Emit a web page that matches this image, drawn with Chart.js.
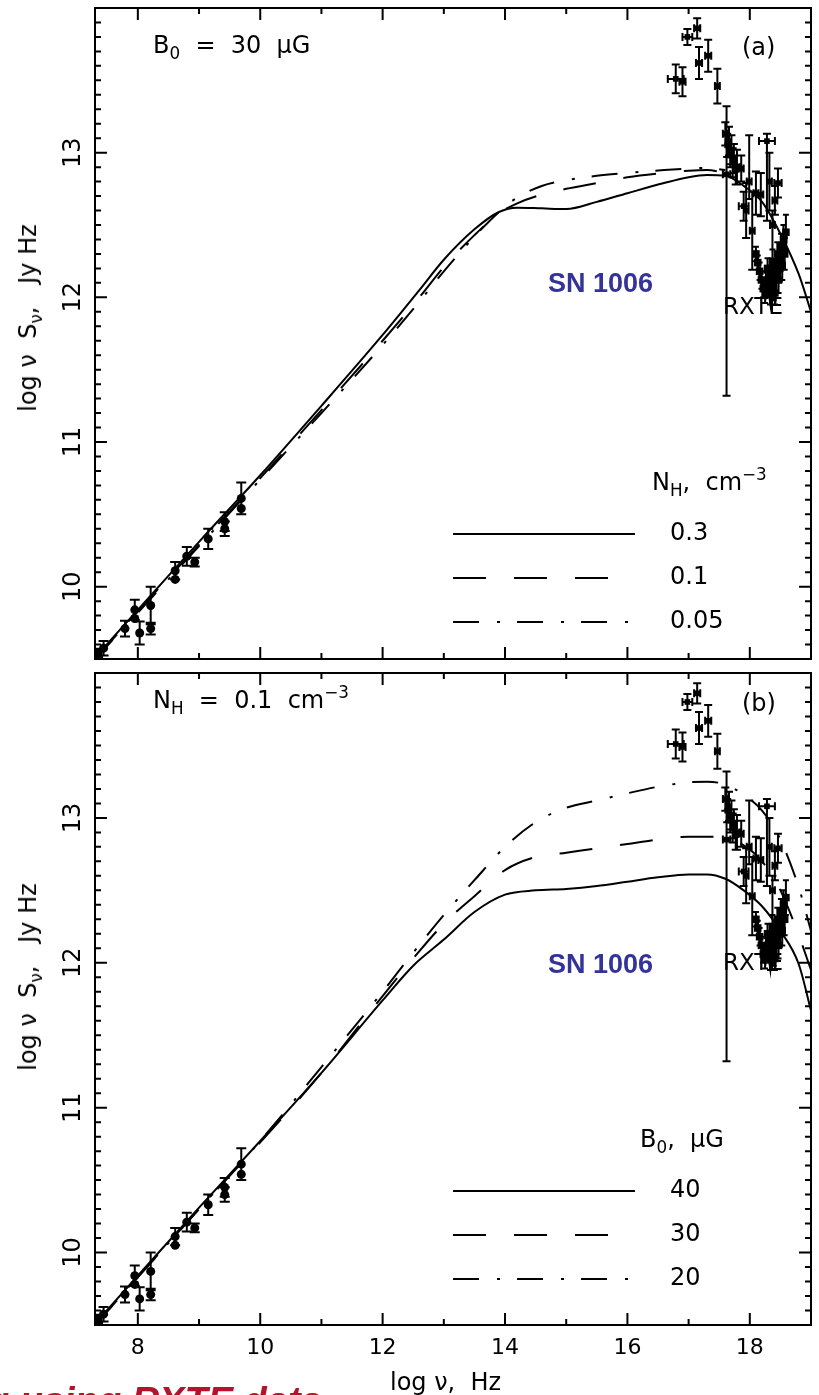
<!DOCTYPE html>
<html>
<head>
<meta charset="utf-8">
<script src="https://cdn.jsdelivr.net/npm/chart.js@4.4.1/dist/chart.umd.min.js"></script>
<style>
html,body{margin:0;padding:0;background:#fff;}
body{width:819px;height:1395px;overflow:hidden;position:relative;}
#wrapA{position:absolute;left:0;top:0;width:819px;height:667px;}
#wrapB{position:absolute;left:0;top:665px;width:819px;height:730px;}
.t{position:absolute;font-family:"DejaVu Sans",sans-serif;font-size:24px;line-height:24px;color:#000;white-space:pre;}
.t sub{font-size:70%;vertical-align:-0.35em;line-height:0;}
.t sup{font-size:70%;vertical-align:0.6em;line-height:0;}
.sn{font-family:"Liberation Sans",Arial,sans-serif;font-weight:bold;font-size:27px;line-height:27px;color:#333399;}
.rot{transform:translate(-50%,-50%) rotate(-90deg);}
.red{position:absolute;font-family:"Liberation Sans",Arial,sans-serif;font-weight:bold;font-style:italic;font-size:38px;line-height:38px;color:#b5122e;white-space:pre;}
</style>
</head>
<body>
<div id="wrapA"><canvas id="chartA"></canvas></div>
<div id="wrapB"><canvas id="chartB"></canvas></div>

<!-- panel (a) annotations -->
<div class="t" style="left:153px;top:33px;">B<sub>0</sub>  =  30  μG</div>
<div class="t" style="left:742px;top:35px;">(a)</div>
<div class="t sn" style="left:548px;top:270px;">SN 1006</div>
<div class="t" style="left:723px;top:294px;font-size:23px;">RXTE</div>
<div class="t" style="left:652px;top:470px;">N<sub>H</sub>,  cm<sup>−3</sup></div>
<div class="t" style="left:670px;top:520px;">0.3</div>
<div class="t" style="left:670px;top:564px;">0.1</div>
<div class="t" style="left:670px;top:608px;">0.05</div>
<div class="t rot" style="left:28px;top:318px;">log ν  S<sub>ν</sub>,   Jy Hz</div>

<!-- panel (b) annotations -->
<div class="t" style="left:153px;top:688px;">N<sub>H</sub>  =  0.1  cm<sup>−3</sup></div>
<div class="t" style="left:742px;top:691px;">(b)</div>
<div class="t sn" style="left:548px;top:951px;">SN 1006</div>
<div class="t" style="left:723px;top:950px;font-size:23px;">RXTE</div>
<div class="t" style="left:640px;top:1127px;">B<sub>0</sub>,  μG</div>
<div class="t" style="left:670px;top:1177px;">40</div>
<div class="t" style="left:670px;top:1221px;">30</div>
<div class="t" style="left:670px;top:1265px;">20</div>
<div class="t rot" style="left:28px;top:977px;">log ν  S<sub>ν</sub>,   Jy Hz</div>

<div class="t" style="left:390px;top:1370px;">log ν,  Hz</div>
<div class="red" style="left:-14px;top:1382px;">g using RXTE data</div>

<script>
// ---------- axis ranges & tick labels ----------
const X_MIN = 7.3, X_MAX = 19.0;
const Y_MIN = 9.5, Y_MAX = 14.0;
const xTickLabels = [8, 10, 12, 14, 16, 18];
const yTickLabels = [10, 11, 12, 13];

// ---------- radio data (log nu, log nuS_nu, error) ----------
const radioX   = [7.35, 7.44, 7.79, 7.95, 7.95, 8.03, 8.21, 8.21, 8.61, 8.61, 8.80, 8.93, 9.15, 9.42, 9.42, 9.69, 9.69];
const radioY   = [9.54, 9.575, 9.71, 9.84, 9.78, 9.68, 9.87, 9.71, 10.11, 10.05, 10.21, 10.17, 10.33, 10.45, 10.40, 10.61, 10.54];
const radioErr = [0.03, 0.05, 0.055, 0.07, 0.0, 0.08, 0.13, 0.04, 0.06, 0.0, 0.065, 0.03, 0.07, 0.065, 0.05, 0.11, 0.0];

// ---------- optical / X-ray data points ----------
const xrayX    = [16.79, 16.90, 16.98, 17.14, 17.17, 17.32, 17.47, 17.62, 17.60, 17.63, 17.66, 17.68, 17.70, 17.72, 17.74, 17.77, 17.79, 17.86, 17.90, 17.94, 17.99, 18.04, 18.10, 18.18, 18.28, 18.32, 18.37, 18.41, 18.46];
const xrayY    = [13.51, 13.49, 13.80, 13.86, 13.62, 13.67, 13.46, 12.85, 13.13, 13.05, 13.08, 12.98, 13.02, 12.93, 12.96, 12.88, 12.90, 12.89, 12.63, 12.60, 12.80, 12.46, 12.72, 12.71, 13.08, 12.80, 12.50, 12.67, 12.79];
const xrayErrLo= [0.10, 0.10, 0.055, 0.07, 0.11, 0.11, 0.12, 1.53, 0.08, 0.08, 0.10, 0.08, 0.10, 0.10, 0.10, 0.10, 0.12, 0.09, 0.10, 0.19, 0.12, 0.27, 0.15, 0.15, 0.55, 0.20, 0.35, 0.10, 0.10];
const xrayErrHi= [0.10, 0.10, 0.055, 0.07, 0.11, 0.11, 0.12, 0.47, 0.08, 0.08, 0.10, 0.08, 0.10, 0.10, 0.10, 0.10, 0.12, 0.09, 0.10, 0.19, 0.32, 0.27, 0.15, 0.15, 0.05, 0.20, 0.10, 0.10, 0.10];
const xrayXErr = [0.13, 0.05, 0.08, 0.05, 0.05, 0.05, 0.04, 0.06, 0.04, 0.03, 0.04, 0.03, 0.04, 0.03, 0.04, 0.03, 0.04, 0.04, 0.08, 0.04, 0.04, 0.04, 0.04, 0.04, 0.13, 0.04, 0.04, 0.04, 0.06];

// ---------- RXTE spectrum (jagged series) ----------
const rxteX   = [18.10, 18.13, 18.16, 18.19, 18.22, 18.25, 18.27, 18.29, 18.31, 18.33, 18.35, 18.37, 18.39, 18.41, 18.43, 18.45, 18.47, 18.49, 18.51, 18.53, 18.55, 18.57, 18.59];
const rxteY   = [12.30, 12.24, 12.18, 12.12, 12.06, 12.03, 12.10, 12.20, 12.08, 12.02, 12.14, 12.25, 12.06, 12.03, 12.18, 12.30, 12.12, 12.20, 12.35, 12.22, 12.40, 12.30, 12.45];
const rxteErr = [0.05, 0.05, 0.06, 0.06, 0.06, 0.07, 0.07, 0.07, 0.07, 0.07, 0.08, 0.08, 0.08, 0.08, 0.08, 0.08, 0.09, 0.09, 0.09, 0.10, 0.10, 0.11, 0.12];

// ---------- model curves, panel (a): B0 = 30 muG, N_H = 0.3 / 0.1 / 0.05 ----------
const aSolidX = [7.3, 8, 9, 10, 11, 12, 12.6, 13.0, 13.5, 13.9, 14.2, 14.6, 15.0, 15.5, 16.0, 16.6, 17.0, 17.3, 17.6, 17.9, 18.2, 18.5, 18.8, 19.0];
const aSolidY = [9.51, 9.84, 10.31, 10.77, 11.25, 11.74, 12.05, 12.26, 12.47, 12.59, 12.62, 12.615, 12.61, 12.66, 12.72, 12.79, 12.83, 12.845, 12.84, 12.77, 12.66, 12.44, 12.16, 11.90];
const aOtherX = [7.3, 8, 9, 10, 11, 12, 12.6, 13.0, 13.5, 13.9, 14.2, 14.6, 15.0, 15.5, 16.0, 16.6, 17.0, 17.3, 17.6];
const aDashY  = [9.50, 9.83, 10.29, 10.75, 11.22, 11.70, 12.00, 12.21, 12.43, 12.58, 12.65, 12.71, 12.75, 12.79, 12.83, 12.86, 12.875, 12.88, 12.86];
const aDotY   = [9.50, 9.82, 10.28, 10.74, 11.20, 11.67, 11.97, 12.18, 12.42, 12.59, 12.69, 12.77, 12.81, 12.84, 12.86, 12.88, 12.89, 12.895, 12.88];

// ---------- model curves, panel (b): N_H = 0.1, B0 = 40 / 30 / 20 muG ----------
const bX      = [7.3, 8, 9, 10, 11, 12, 12.5, 13.0, 13.5, 14.0, 14.5, 15.0, 15.5, 16.0, 16.5, 17.0, 17.3, 17.6, 17.9, 18.2, 18.5, 18.8, 19.0];
const bSolidY = [9.51, 9.84, 10.31, 10.77, 11.24, 11.74, 11.98, 12.16, 12.35, 12.47, 12.50, 12.51, 12.53, 12.56, 12.59, 12.61, 12.61, 12.58, 12.50, 12.39, 12.22, 11.99, 11.67];
const bDashY  = [9.50, 9.83, 10.30, 10.76, 11.24, 11.77, 12.03, 12.27, 12.46, 12.64, 12.73, 12.76, 12.79, 12.82, 12.85, 12.87, 12.87, 12.86, 12.81, 12.70, 12.50, 12.19, 11.95];
const bDotY   = [9.50, 9.83, 10.30, 10.77, 11.28, 11.80, 12.07, 12.33, 12.57, 12.80, 12.97, 13.07, 13.12, 13.17, 13.215, 13.245, 13.25, 13.23, 13.16, 13.05, 12.85, 12.52, 12.22];

// ---------- styles ----------
const DASHED = [33, 28];
const DASHDOT = [26, 18, 3, 17];

function xy(xs, ys) { return xs.map((x, i) => ({ x: x, y: ys[i] })); }
function curve(xs, ys, dash) {
  return { data: xy(xs, ys), showLine: true, borderColor: '#000', borderWidth: 2, borderDash: dash,
           pointRadius: 0, fill: false, cubicInterpolationMode: 'monotone', order: 3 };
}
function pointsDatasets() {
  return [
    { data: xy(radioX, radioY), pointStyle: 'circle', pointRadius: 4.5, backgroundColor: '#000', borderColor: '#000', borderWidth: 0, showLine: false, order: 1 },
    { data: xy(xrayX, xrayY), pointStyle: 'rect', pointRadius: 4, backgroundColor: '#000', borderColor: '#000', borderWidth: 0, showLine: false, order: 1 },
    { data: xy(rxteX, rxteY), pointStyle: 'rect', pointRadius: 2.5, backgroundColor: '#000', borderColor: '#000', borderWidth: 4, showLine: true, tension: 0, order: 1 }
  ];
}

// ---------- plugins ----------
const errorBars = {
  id: 'errorBars',
  afterDatasetsDraw(chart) {
    const { ctx, chartArea: a, scales: { x, y } } = chart;
    ctx.save();
    ctx.beginPath(); ctx.rect(a.left, a.top, a.right - a.left, a.bottom - a.top); ctx.clip();
    ctx.strokeStyle = '#000'; ctx.lineWidth = 2;
    ctx.beginPath();
    radioX.forEach((vx, i) => {
      if (radioErr[i] <= 0) return;
      const px = x.getPixelForValue(vx);
      const y1 = y.getPixelForValue(radioY[i] - radioErr[i]);
      const y2 = y.getPixelForValue(radioY[i] + radioErr[i]);
      ctx.moveTo(px, y1); ctx.lineTo(px, y2);
      ctx.moveTo(px - 5, y1); ctx.lineTo(px + 5, y1);
      ctx.moveTo(px - 5, y2); ctx.lineTo(px + 5, y2);
    });
    xrayX.forEach((vx, i) => {
      const px = x.getPixelForValue(vx);
      const py = y.getPixelForValue(xrayY[i]);
      const y1 = y.getPixelForValue(xrayY[i] - xrayErrLo[i]);
      const y2 = y.getPixelForValue(xrayY[i] + xrayErrHi[i]);
      ctx.moveTo(px, y1); ctx.lineTo(px, y2);
      ctx.moveTo(px - 4, y1); ctx.lineTo(px + 4, y1);
      ctx.moveTo(px - 4, y2); ctx.lineTo(px + 4, y2);
      const x1 = x.getPixelForValue(vx - xrayXErr[i]);
      const x2 = x.getPixelForValue(vx + xrayXErr[i]);
      ctx.moveTo(x1, py); ctx.lineTo(x2, py);
      if (xrayXErr[i] >= 0.04) {
        ctx.moveTo(x1, py - 4); ctx.lineTo(x1, py + 4);
        ctx.moveTo(x2, py - 4); ctx.lineTo(x2, py + 4);
      }
    });
    rxteX.forEach((vx, i) => {
      const px = x.getPixelForValue(vx);
      const y1 = y.getPixelForValue(rxteY[i] - rxteErr[i]);
      const y2 = y.getPixelForValue(rxteY[i] + rxteErr[i]);
      ctx.moveTo(px, y1); ctx.lineTo(px, y2);
      ctx.moveTo(px - 3, y1); ctx.lineTo(px + 3, y1);
      ctx.moveTo(px - 3, y2); ctx.lineTo(px + 3, y2);
    });
    ctx.stroke();
    ctx.restore();
  }
};

const frame = {
  id: 'frame',
  afterDraw(chart) {
    const { ctx, chartArea: a, scales: { x, y } } = chart;
    ctx.save();
    ctx.strokeStyle = '#000'; ctx.lineWidth = 2;
    ctx.strokeRect(a.left, a.top, a.right - a.left, a.bottom - a.top);
    ctx.beginPath();
    for (let v = Math.ceil(X_MIN); v < X_MAX; v++) {
      const px = x.getPixelForValue(v);
      const len = v % 2 === 0 ? 12 : 6;
      ctx.moveTo(px, a.bottom); ctx.lineTo(px, a.bottom - len);
      ctx.moveTo(px, a.top); ctx.lineTo(px, a.top + len);
    }
    for (let k = Math.round(Y_MIN * 10) + 1; k < Math.round(Y_MAX * 10); k++) {
      const py = y.getPixelForValue(k / 10);
      const len = k % 10 === 0 ? 12 : 6;
      ctx.moveTo(a.left, py); ctx.lineTo(a.left + len, py);
      ctx.moveTo(a.right, py); ctx.lineTo(a.right - len, py);
    }
    ctx.stroke();
    // rotated y tick labels
    ctx.fillStyle = '#000';
    ctx.font = '24px "DejaVu Sans"';
    ctx.textAlign = 'center';
    ctx.textBaseline = 'alphabetic';
    yTickLabels.forEach(v => {
      ctx.save();
      ctx.translate(a.left - 15, y.getPixelForValue(v));
      ctx.rotate(-Math.PI / 2);
      ctx.fillText(String(v), 0, 0);
      ctx.restore();
    });
    // legend samples
    const ls = chart.options.plugins.legendSamples;
    if (ls) {
      const dashes = [[], DASHED, DASHDOT];
      ls.ys.forEach((yy, i) => {
        ctx.setLineDash(dashes[i]);
        ctx.beginPath();
        ctx.moveTo(ls.x1, yy); ctx.lineTo(ls.x2, yy);
        ctx.stroke();
      });
      ctx.setLineDash([]);
    }
    ctx.restore();
  }
};

Chart.defaults.font.family = '"DejaVu Sans", sans-serif';
Chart.defaults.color = '#000';

function makeOptions(bottom) {
  return {
    animation: false,
    responsive: true,
    maintainAspectRatio: false,
    layout: { padding: bottom ? { left: 0, right: 7, top: 0, bottom: 0 } : { left: 0, right: 7, top: 8, bottom: 2 } },
    plugins: {
      legend: { display: false },
      tooltip: { enabled: false },
      legendSamples: { x1: 453, x2: 635, ys: bottom ? [526, 570, 614] : [534, 578, 622] }
    },
    scales: {
      x: {
        type: 'linear', min: X_MIN, max: X_MAX,
        grid: { display: false, drawTicks: false },
        border: { display: false },
        ticks: { display: bottom, font: { size: 22 }, color: '#000', padding: 10, maxRotation: 0, autoSkip: false },
        afterBuildTicks: s => { s.ticks = xTickLabels.map(v => ({ value: v })); },
        afterFit: s => { s.height = bottom ? 70 : 0; }
      },
      y: {
        type: 'linear', min: Y_MIN, max: Y_MAX,
        grid: { display: false, drawTicks: false },
        border: { display: false },
        ticks: { display: false },
        afterFit: s => { s.width = 95; }
      }
    }
  };
}

new Chart(document.getElementById('chartA'), {
  type: 'scatter',
  data: { datasets: [
    curve(aSolidX, aSolidY, []),
    curve(aOtherX, aDashY, DASHED),
    curve(aOtherX, aDotY, DASHDOT),
    ...pointsDatasets()
  ] },
  options: makeOptions(false),
  plugins: [errorBars, frame]
});

new Chart(document.getElementById('chartB'), {
  type: 'scatter',
  data: { datasets: [
    curve(bX, bSolidY, []),
    curve(bX, bDashY, DASHED),
    curve(bX, bDotY, DASHDOT),
    ...pointsDatasets()
  ] },
  options: makeOptions(true),
  plugins: [errorBars, frame]
});
</script>
</body>
</html>
